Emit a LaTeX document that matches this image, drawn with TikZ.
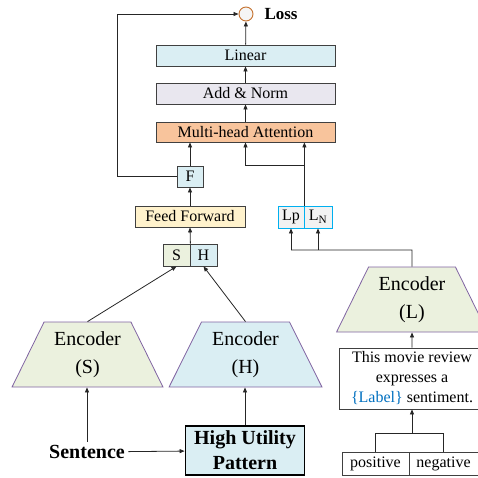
\documentclass[tikz,border=0pt]{standalone}
\usepackage{fontspec}
\setmainfont{Liberation Serif}
\usepackage{tikz}
\usetikzlibrary{arrows.meta, positioning, calc, shapes.geometric}
\definecolor{linblue}{HTML}{DAEEF3}
\definecolor{addgray}{HTML}{E9E7EF}
\definecolor{mhaorange}{HTML}{F8C49C}
\definecolor{ffyellow}{HTML}{FFF2CC}
\definecolor{encgreen}{HTML}{EBF1DE}
\definecolor{encpurple}{HTML}{8064A2}
\definecolor{cyanb}{HTML}{00B0F0}
\definecolor{lossorange}{HTML}{C5722F}
\definecolor{labelblue}{HTML}{0070C0}

\begin{document}
\begin{tikzpicture}[x=1pt,y=-1pt,
  box/.style={draw=black!75, line width=0.8pt, minimum height=21pt, inner sep=0pt, font=\fontsize{16}{18}\selectfont},
  lbox/.style={box, draw=cyanb, fill=gray!10, minimum width=26pt, minimum height=22pt},
  enc/.style={trapezium, trapezium stretches=true, trapezium angle=62, draw=encpurple, line width=0.8pt, minimum width=151pt, minimum height=65pt, inner sep=0pt, align=center, font=\fontsize{20}{28}\selectfont},
  lossc/.style={circle, draw=lossorange, fill=gray!8, line width=0.9pt, minimum size=14pt, inner sep=0pt},
  conn/.style={draw=black!85, line width=0.8pt},
  arr/.style={conn, -{Triangle[length=5pt,width=4pt]}}]
\clip (0,0) rectangle (478,477);
% Output layers
\node[lossc] (loss) at (246,14) {};
\node[anchor=west, font=\bfseries\fontsize{17}{20}\selectfont] (losst) at (261,14) {Loss};
\node[box, fill=linblue, minimum width=179pt] (lin) at (245.5,55.5) {Linear};
\node[box, fill=addgray, minimum width=179pt] (add) at (245.5,93.5) {Add \& Norm};
\node[box, fill=mhaorange, minimum width=179pt, minimum height=20pt] (mha) at (245.5,132) {Multi-head Attention};
% Sentence branch
\node[box, fill=linblue, minimum width=26pt] (f) at (190,176.5) {F};
\node[box, fill=ffyellow, minimum width=110pt] (ff) at (190,216.5) {Feed Forward};
\node[box, fill=encgreen, minimum width=27pt, minimum height=22pt] (s) at (176.5,255) {S};
\node[box, fill=linblue, minimum width=27pt, minimum height=22pt] (h) at (203.5,255) {H};
\node[enc, fill=encgreen] (encs) at (87.5,354.5) {Encoder\\(S)};
\node[enc, fill=linblue, minimum width=153pt] (ench) at (245.5,354.5) {Encoder\\(H)};
\node[font=\bfseries\fontsize{20}{24}\selectfont] (sent) at (87,452) {Sentence};
\node[box, fill=linblue, draw=black, line width=1.8pt, minimum width=119pt, minimum height=49pt, align=center, font=\bfseries\fontsize{20}{25}\selectfont] (hup) at (245,450.5) {High Utility\\Pattern};
% Label branch
\node[lbox] (lp) at (291,217) {Lp};
\node[lbox, minimum width=28pt] (ln) at (318,217) {L\textsubscript{N}};
\node[enc, fill=encgreen] (encl) at (412,299.5) {Encoder\\(L)};
\node[box, fill=white, minimum width=146pt, minimum height=61pt, align=center, font=\fontsize{16}{20}\selectfont] (prompt) at (412,378.5) {This movie review\\expresses a\\\textcolor{labelblue}{\{Label\}} sentiment.};
\node[box, minimum width=67pt, minimum height=23pt] (pos) at (375.5,463.5) {positive};
\node[box, minimum width=69pt, minimum height=23pt] (neg) at (443.5,463.5) {negative};
\coordinate (qk) at (304,165);
\coordinate (lsplit) at (412,250);
\coordinate (pjoin) at (412,433);
% Connectors
\draw[arr] (lin) -- (loss);
\draw[arr] (add) -- (lin);
\draw[arr] (mha) -- (add);
\draw[arr] (f) -- (f |- mha.south);
\draw[arr] (f.west) -- ++(-59,0) |- (loss.west);
\draw[arr] (ff) -- (f);
\draw[arr] (s.north east) -- (ff.south);
\draw[arr] (encs.north) -- (s.south);
\draw[arr] (ench.north) -- (h.south);
\draw[arr] (sent.north) -- (sent.north |- encs.south);
\draw[arr] (sent) -- (hup);
\draw[arr] (hup.north) -- (hup.north |- ench.south);
\draw[arr] (lp.north east) -- (lp.north east |- mha.south);
\draw[arr] (qk) -| (mha.south);
\draw[conn] (encl.north) -- (lsplit) -- (lp |- lsplit);
\draw[arr] (lp |- lsplit) -- (lp);
\draw[arr] (ln |- lsplit) -- (ln);
\draw[arr] (prompt.north) -- (encl.south);
\draw[arr] (pjoin) -- (prompt);
\draw[conn] (pos) |- (pjoin) -| (neg);
\end{tikzpicture}
\end{document}
